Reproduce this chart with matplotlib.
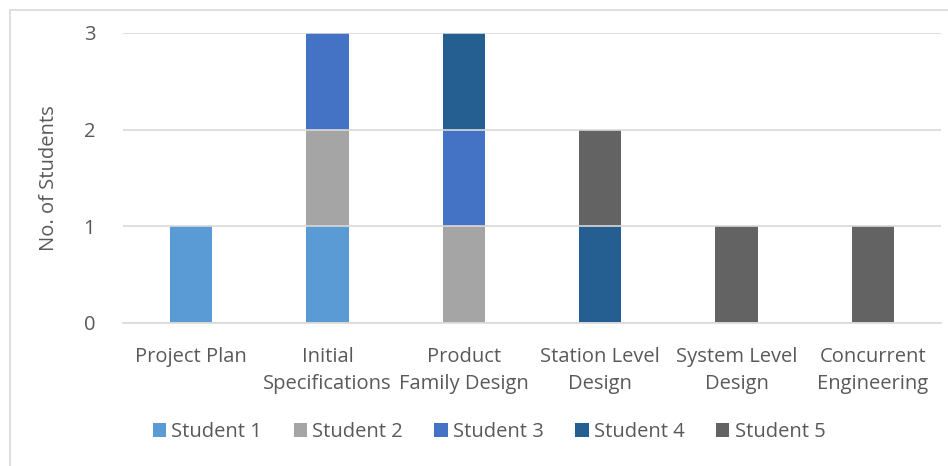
import matplotlib
matplotlib.use("Agg")
import matplotlib.pyplot as plt
from matplotlib.patches import Rectangle, Patch
import numpy as np

categories = ["Project Plan", "Initial\nSpecifications", "Product\nFamily Design",
              "Station Level\nDesign", "System Level\nDesign", "Concurrent\nEngineering"]
series_names = ["Student 1", "Student 2", "Student 3", "Student 4", "Student 5"]
student1 = [1, 1, 0, 0, 0, 0]
student2 = [0, 1, 1, 0, 0, 0]
student3 = [0, 1, 1, 0, 0, 0]
student4 = [0, 0, 1, 1, 0, 0]
student5 = [0, 0, 0, 1, 1, 1]
series = [student1, student2, student3, student4, student5]
colors = ["#5B9BD5", "#A5A5A5", "#4472C4", "#255E91", "#636363"]
yticks = [0, 1, 2, 3]

plt.rcParams['font.family'] = ['Open Sans', 'DejaVu Sans']
text_color = "#595959"
fs = 14.5

fig = plt.figure(figsize=(9.48, 4.66), dpi=100)
fig.patches.append(Rectangle((10/948, -0.1), 1.2, 1 - 10/466 + 0.1, transform=fig.transFigure,
                             fill=False, edgecolor="#D9D9D9", linewidth=1.2))
ax = fig.add_axes([123/948, 1 - 323/466, (941 - 123)/948, (323 - 33)/466])

x = np.arange(len(categories))
bottom = np.zeros(len(categories))
for name, vals, c in zip(series_names, series, colors):
    vals = np.array(vals, dtype=float)
    ax.bar(x, vals, width=0.31, bottom=bottom, color=c, label=name, zorder=1)
    bottom += vals

ax.set_xlim(-0.5, len(categories) - 0.5)
ax.set_ylim(0, 3)
ax.set_yticks(yticks)
ax.yaxis.grid(True, color="#D9D9D9", linewidth=1.2, zorder=3)
ax.set_axisbelow(False)
for s in ["top", "right", "left"]:
    ax.spines[s].set_visible(False)
ax.spines["bottom"].set_color("#D9D9D9")
ax.spines["bottom"].set_linewidth(1.2)
ax.tick_params(axis="both", length=0, labelsize=fs, labelcolor=text_color)
ax.tick_params(axis="y", pad=20)
ax.tick_params(axis="x", pad=17)
ax.set_xticks(x)
ax.set_xticklabels(categories, linespacing=1.5)
ax.set_ylabel("No. of Students", fontsize=fs, color=text_color, labelpad=18)

handles = [Patch(facecolor=c, edgecolor="none") for c in colors]
fig.legend(handles, series_names, loc="center", bbox_to_anchor=(489/948, 1 - 432/466),
           ncol=5, frameon=False, fontsize=fs, labelcolor=text_color,
           handlelength=0.68, handleheight=0.68, handletextpad=0.25, columnspacing=1.55)

fig.savefig("out.png", dpi=100)
